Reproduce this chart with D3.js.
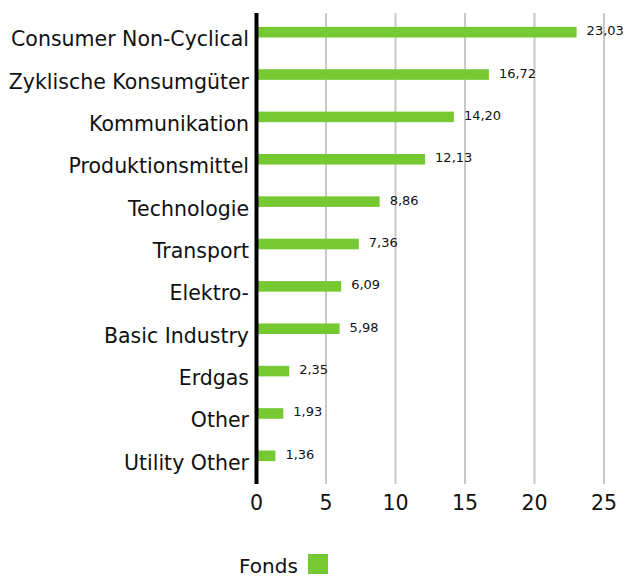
<!DOCTYPE html>
<html>
<head>
<meta charset="utf-8">
<script src="https://cdn.jsdelivr.net/npm/d3@7"></script>
<style>
  body { margin: 0; background: #fff; }
  text { font-family: "DejaVu Sans", sans-serif; fill: #111; }
</style>
</head>
<body>
<div id="chart"></div>
<script>
const categories = ["Consumer Non-Cyclical", "Zyklische Konsumgüter", "Kommunikation",
    "Produktionsmittel", "Technologie", "Transport", "Elektro-", "Basic Industry",
    "Erdgas", "Other", "Utility Other"];
const fondsValues = [23.03, 16.72, 14.20, 12.13, 8.86, 7.36, 6.09, 5.98, 2.35, 1.93, 1.36];
const xTicks = [0, 5, 10, 15, 20, 25];
const seriesName = "Fonds";

let data = categories.map((c, i) => ({ name: c, value: fondsValues[i] }));
let fmt = v => v.toFixed(2).replace(".", ",");

let width = 625, height = 576;
let green = "#76c933";

let svg = d3.select("#chart")
    .append("svg")
    .attr("width", width)
    .attr("height", height);

let x = d3.scaleLinear().domain([0, 25]).range([256.5, 604]);
let y = d3.scaleBand().domain(categories).range([11, 477]).paddingInner(0.75).paddingOuter(0.375);

// grid lines
svg.selectAll("line.grid")
    .data(xTicks.filter(t => t > 0))
    .join("line")
    .attr("class", "grid")
    .attr("x1", d => x(d)).attr("x2", d => x(d))
    .attr("y1", 13).attr("y2", 484)
    .attr("stroke", "#c8c8c8")
    .attr("stroke-width", 2);

// bars
svg.selectAll("rect.bar")
    .data(data)
    .join("rect")
    .attr("class", "bar")
    .attr("x", x(0))
    .attr("y", d => y(d.name))
    .attr("width", d => x(d.value) - x(0))
    .attr("height", y.bandwidth())
    .attr("fill", green);

// value labels
svg.selectAll("text.val")
    .data(data)
    .join("text")
    .attr("class", "val")
    .attr("x", d => x(d.value) + 10)
    .attr("y", d => y(d.name) + y.bandwidth() / 2 + 3)
    .attr("font-size", 13)
    .text(d => fmt(d.value));

// category labels
svg.selectAll("text.cat")
    .data(data)
    .join("text")
    .attr("class", "cat")
    .attr("x", 249)
    .attr("y", d => y(d.name) + y.bandwidth() / 2 + 14)
    .attr("text-anchor", "end")
    .attr("font-size", 20.5)
    .text(d => d.name);

// axis line at zero
svg.append("line")
    .attr("x1", x(0)).attr("x2", x(0))
    .attr("y1", 13).attr("y2", 484)
    .attr("stroke", "#000")
    .attr("stroke-width", 4);

// x tick labels
svg.selectAll("text.tick")
    .data(xTicks)
    .join("text")
    .attr("class", "tick")
    .attr("x", d => x(d))
    .attr("y", 510)
    .attr("text-anchor", "middle")
    .attr("font-size", 20.5)
    .text(d => d);

// legend
svg.append("text")
    .attr("x", 239)
    .attr("y", 572.5)
    .attr("font-size", 20)
    .text(seriesName);

svg.append("rect")
    .attr("x", 308).attr("y", 554)
    .attr("width", 20).attr("height", 20)
    .attr("fill", green);
</script>
</body>
</html>
